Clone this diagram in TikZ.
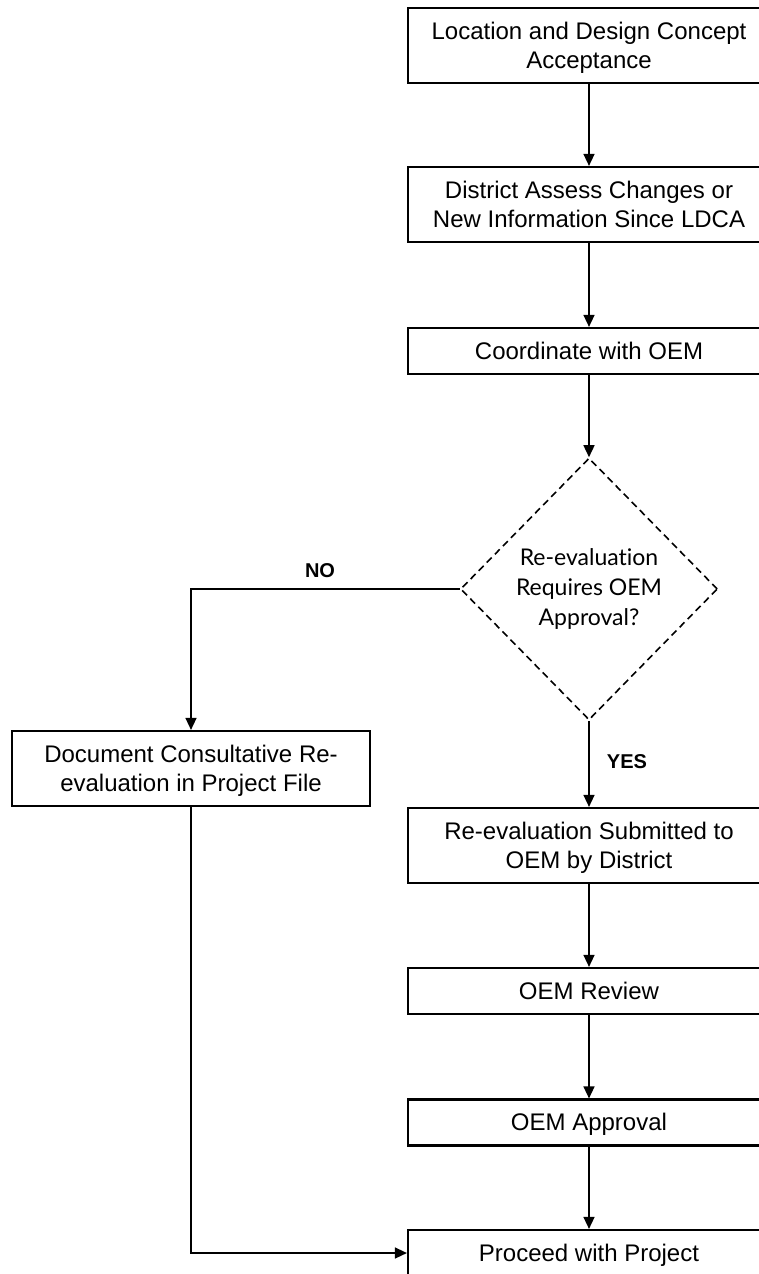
\documentclass[tikz,border=0pt]{standalone}
\usepackage{fontspec}
\setmainfont{Liberation Sans}
\newfontfamily\diafont[Ligatures=NoCommon]{Lato}
\newfontfamily\answerfont{Liberation Sans Bold}
\usetikzlibrary{arrows.meta,shapes.geometric,positioning}

\begin{document}
\begin{tikzpicture}[
    x=1pt, y=1pt,
    >={Triangle[length=12pt,width=11pt]},
    line cap=butt,
    stepbox/.style={draw, line width=2.2pt, minimum width=362pt, inner sep=0pt,
        text depth=1pt, align=center, font=\fontsize{24}{29}\selectfont},
    tallbox/.style={stepbox, minimum height=75pt},
    flatbox/.style={stepbox, minimum height=46pt},
    choice/.style={diamond, draw, dash pattern=on 7pt off 4.5pt, line width=1.6pt,
        minimum width=257pt, minimum height=262pt, inner sep=0pt, align=center,
        font=\diafont\fontsize{23}{30}\selectfont},
    flow/.style={->, line width=1.5pt},
    answer/.style={font=\answerfont\fontsize{20}{24}\selectfont}
]

% --- 1. FRAME ---
\useasboundingbox (0,0) rectangle (759,-1274);
\clip (0,0) rectangle (759,-1274);

% --- 2. MAIN COLUMN ---
\node[tallbox] (ldca) at (589,-45.5) {Location and Design Concept\\Acceptance};
\node[tallbox] (assess) at (589,-204.5) {District Assess Changes or\\New Information Since LDCA};
\node[flatbox] (coord) at (589,-351) {Coordinate with OEM};
\node[choice] (needs) at (589,-589) {Re-evaluation\\Requires OEM\\Approval?};
\node[tallbox] (submit) at (589,-845.5) {Re-evaluation Submitted to\\OEM by District};
\node[flatbox] (review) at (589,-991) {OEM Review};
\node[flatbox] (approve) at (589,-1122.5) {OEM Approval};
\node[flatbox] (proceed) at (589,-1253) {Proceed with Project};

% --- 3. SIDE BRANCH ---
\node[tallbox, minimum width=358pt] (consult) at (191,-768.5) {Document Consultative Re-\\evaluation in Project File};

% --- 4. CONNECTORS ---
\draw[flow] (ldca) -- (assess);
\draw[flow] (assess) -- (coord);
\draw[flow] (coord) -- (needs);
\draw[flow] (needs) -- (submit);
\draw[flow] (submit) -- (review);
\draw[flow] (review) -- (approve);
\draw[flow] (approve) -- (proceed);
\draw[flow] (needs.west) -| (consult.north);
\draw[flow] (consult.south) |- (proceed.west);

% --- 5. LABELS ---
\node[answer] (no) at (320,-571) {NO};
\node[answer] (yes) at (627,-762) {YES};

\end{tikzpicture}
\end{document}
